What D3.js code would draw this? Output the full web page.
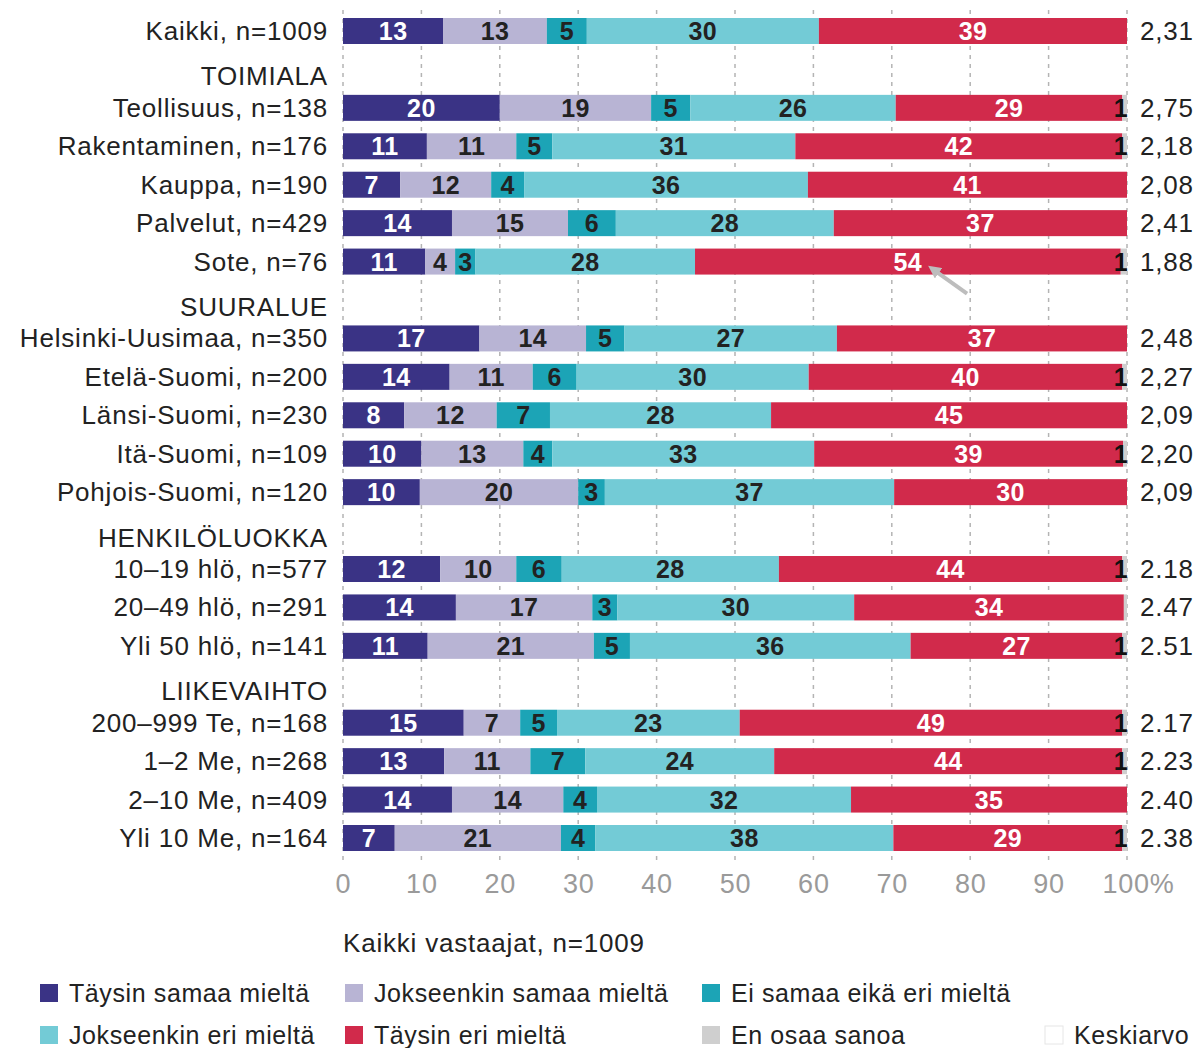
<!DOCTYPE html>
<html><head><meta charset="utf-8">
<script src="https://cdn.jsdelivr.net/npm/d3@7"></script>
<style>body{margin:0;background:#fff}svg{display:block;font-family:"Liberation Sans",Arial,sans-serif}</style>
</head><body><svg id="c" width="1199" height="1048"></svg>
<script>
// Rows in drawing order; headers have no bar
const rowLabels = ["Kaikki, n=1009","TOIMIALA","Teollisuus, n=138","Rakentaminen, n=176","Kauppa, n=190","Palvelut, n=429","Sote, n=76","SUURALUE","Helsinki-Uusimaa, n=350","Etelä-Suomi, n=200","Länsi-Suomi, n=230","Itä-Suomi, n=109","Pohjois-Suomi, n=120","HENKILÖLUOKKA","10–19 hlö, n=577","20–49 hlö, n=291","Yli 50 hlö, n=141","LIIKEVAIHTO","200–999 Te, n=168","1–2  Me, n=268","2–10 Me, n=409","Yli 10 Me, n=164"];
const headers = ["TOIMIALA","SUURALUE","HENKILÖLUOKKA","LIIKEVAIHTO"];
const categories = rowLabels.filter(d => !headers.includes(d));
const taysinSamaa     = [12.8,20.0,10.7, 7.3,13.9,10.5,17.4,13.6, 7.8,10.0, 9.8,12.4,14.4,10.8,15.4,12.9,13.9, 6.6];
const jokseenkinSamaa = [13.2,19.3,11.4,11.6,14.8, 3.8,13.6,10.6,11.8,13.0,20.2, 9.7,17.4,21.2, 7.2,11.0,14.2,21.2];
const eiSamaaEiEri    = [ 5.1, 5.0, 4.6, 4.2, 6.1, 2.6, 4.9, 5.6, 6.8, 3.7, 3.4, 5.8, 3.2, 4.6, 4.7, 7.0, 4.3, 4.4];
const jokseenkinEri   = [29.6,26.2,31.0,36.2,27.8,28.0,27.1,29.6,28.2,33.4,36.9,27.7,30.2,35.8,23.3,24.1,32.4,38.0];
const taysinEri       = [39.3,28.9,41.7,40.7,37.4,54.3,37.0,40.0,45.4,39.4,29.7,43.8,34.4,27.0,48.8,44.4,35.2,29.2];
const enOsaa          = [ 0.0, 0.6, 0.6, 0.0, 0.0, 0.8, 0.0, 0.6, 0.0, 0.5, 0.0, 0.6, 0.4, 0.6, 0.6, 0.6, 0.0, 0.6];
const averages = ["2,31","2,75","2,18","2,08","2,41","1,88","2,48","2,27","2,09","2,20","2,09","2.18","2.47","2.51","2.17","2.23","2.40","2.38"];
const seriesNames = ["Täysin samaa mieltä","Jokseenkin samaa mieltä","Ei samaa eikä eri mieltä","Jokseenkin eri mieltä","Täysin eri mieltä","En osaa sanoa"];
const seriesColors = ["#3a3385","#b8b4d4","#1ca4b6","#73cbd6","#d12a4b","#cfcfcf"];
const labelColors = ["#fff","#222","#222","#222","#fff","#111"];
const xTicks = [0,10,20,30,40,50,60,70,80,90,100];

const svg = d3.select("#c");
const x = d3.scaleLinear().domain([0,100]).range([343,1127]);
const y = d3.scalePoint().domain(rowLabels).range([31,838]);
const barH = 26;
const font = '"Liberation Sans",Arial,sans-serif';

// gridlines
svg.append("g").selectAll("line").data(xTicks).join("line")
  .attr("x1", d => x(d)).attr("x2", d => x(d)).attr("y1", 10).attr("y2", 862)
  .attr("stroke", "#b4b4b4").attr("stroke-width", 1.5).attr("stroke-dasharray", "4,5");

const seriesData = [taysinSamaa, jokseenkinSamaa, eiSamaaEiEri, jokseenkinEri, taysinEri, enOsaa];
const rows = categories.map((c, i) => {
  let acc = 0;
  const segs = seriesData.map((s, k) => { const v = s[i]; const seg = {k, v, x0: acc, x1: acc + v}; acc += v; return seg; });
  return {c, segs, avg: averages[i]};
});

const g = svg.append("g").selectAll("g").data(rows).join("g");
g.selectAll("rect").data(d => d.segs.map(s => ({...s, c: d.c}))).join("rect")
  .attr("x", d => x(d.x0)).attr("width", d => Math.max(0, x(d.x1) - x(d.x0)))
  .attr("y", d => y(d.c) - barH/2).attr("height", barH)
  .attr("fill", d => seriesColors[d.k]);
g.selectAll("text.v").data(d => d.segs.filter(s => Math.round(s.v) >= 1).map(s => ({...s, c: d.c}))).join("text")
  .attr("class","v")
  .attr("x", d => d.k === 5 ? x(100) + 1 : x((d.x0 + d.x1)/2))
  .attr("y", d => y(d.c) + 9)
  .attr("text-anchor", d => d.k === 5 ? "end" : "middle")
  .attr("font-family", font).attr("font-weight", "bold").attr("font-size", 25).attr("letter-spacing", 0.4)
  .attr("fill", d => labelColors[d.k])
  .text(d => Math.round(d.v));
// averages
g.append("text").attr("x", 1140).attr("y", d => y(d.c) + 9)
  .attr("font-family", font).attr("font-size", 26).attr("letter-spacing", 0.8).attr("fill", "#222")
  .text(d => d.avg);

// category + header labels
svg.append("g").selectAll("text").data(rowLabels).join("text")
  .attr("x", 328).attr("y", d => y(d) + 9 + (headers.includes(d) ? 7 : 0))
  .attr("text-anchor", "end").attr("font-family", font).attr("font-size", 26).attr("letter-spacing", 0.8).attr("fill", "#222")
  .text(d => d);

// Sote arrow annotation
const soteY = y("Sote, n=76");
svg.append("defs").append("marker").attr("id","ah").attr("viewBox","0 0 10 10").attr("refX",5).attr("refY",5)
  .attr("markerWidth",3.2).attr("markerHeight",3.2).attr("orient","auto")
  .append("path").attr("d","M0,0 L10,5 L0,10 z").attr("fill","#bdbdbd");
svg.append("line").attr("x1", x(79.6)).attr("y1", soteY + 32).attr("x2", x(75.3)).attr("y2", soteY + 8)
  .attr("stroke","#bdbdbd").attr("stroke-width",4).attr("marker-end","url(#ah)");

// x axis
const ax = svg.append("g").attr("transform","translate(0,862)")
  .call(d3.axisBottom(x).tickValues(xTicks).tickSize(0).tickPadding(12).tickFormat(d => d === 100 ? "100%" : d));
ax.select(".domain").remove();
ax.selectAll("text").attr("font-family", font).attr("font-size", 27).attr("letter-spacing", 0.8).attr("fill", "#9a9a9a")
  .attr("dx", d => d === 100 ? 11 : 0);

// footer
svg.append("text").attr("x", 343).attr("y", 952).attr("font-family", font).attr("font-size", 26).attr("letter-spacing", 0.8).attr("fill","#222")
  .text("Kaikki vastaajat, n=1009");

// legend
const legendItems = [
  {name: seriesNames[0], color: seriesColors[0], lx: 40, ly: 993},
  {name: seriesNames[1], color: seriesColors[1], lx: 345, ly: 993},
  {name: seriesNames[2], color: seriesColors[2], lx: 702, ly: 993},
  {name: seriesNames[3], color: seriesColors[3], lx: 40, ly: 1035},
  {name: seriesNames[4], color: seriesColors[4], lx: 345, ly: 1035},
  {name: seriesNames[5], color: seriesColors[5], lx: 702, ly: 1035},
  {name: "Keskiarvo", color: "#fff", lx: 1045, ly: 1035, stroke: "#e6e6e6"}
];
const lg = svg.append("g").selectAll("g").data(legendItems).join("g");
lg.append("rect").attr("x", d => d.lx).attr("y", d => d.ly - 9).attr("width", 18).attr("height", 18)
  .attr("fill", d => d.color).attr("stroke", d => d.stroke || "none");
lg.append("text").attr("x", d => d.lx + 29).attr("y", d => d.ly + 9)
  .attr("font-family", font).attr("font-size", 25).attr("letter-spacing", 0.6).attr("fill","#222").text(d => d.name);
</script></body></html>
